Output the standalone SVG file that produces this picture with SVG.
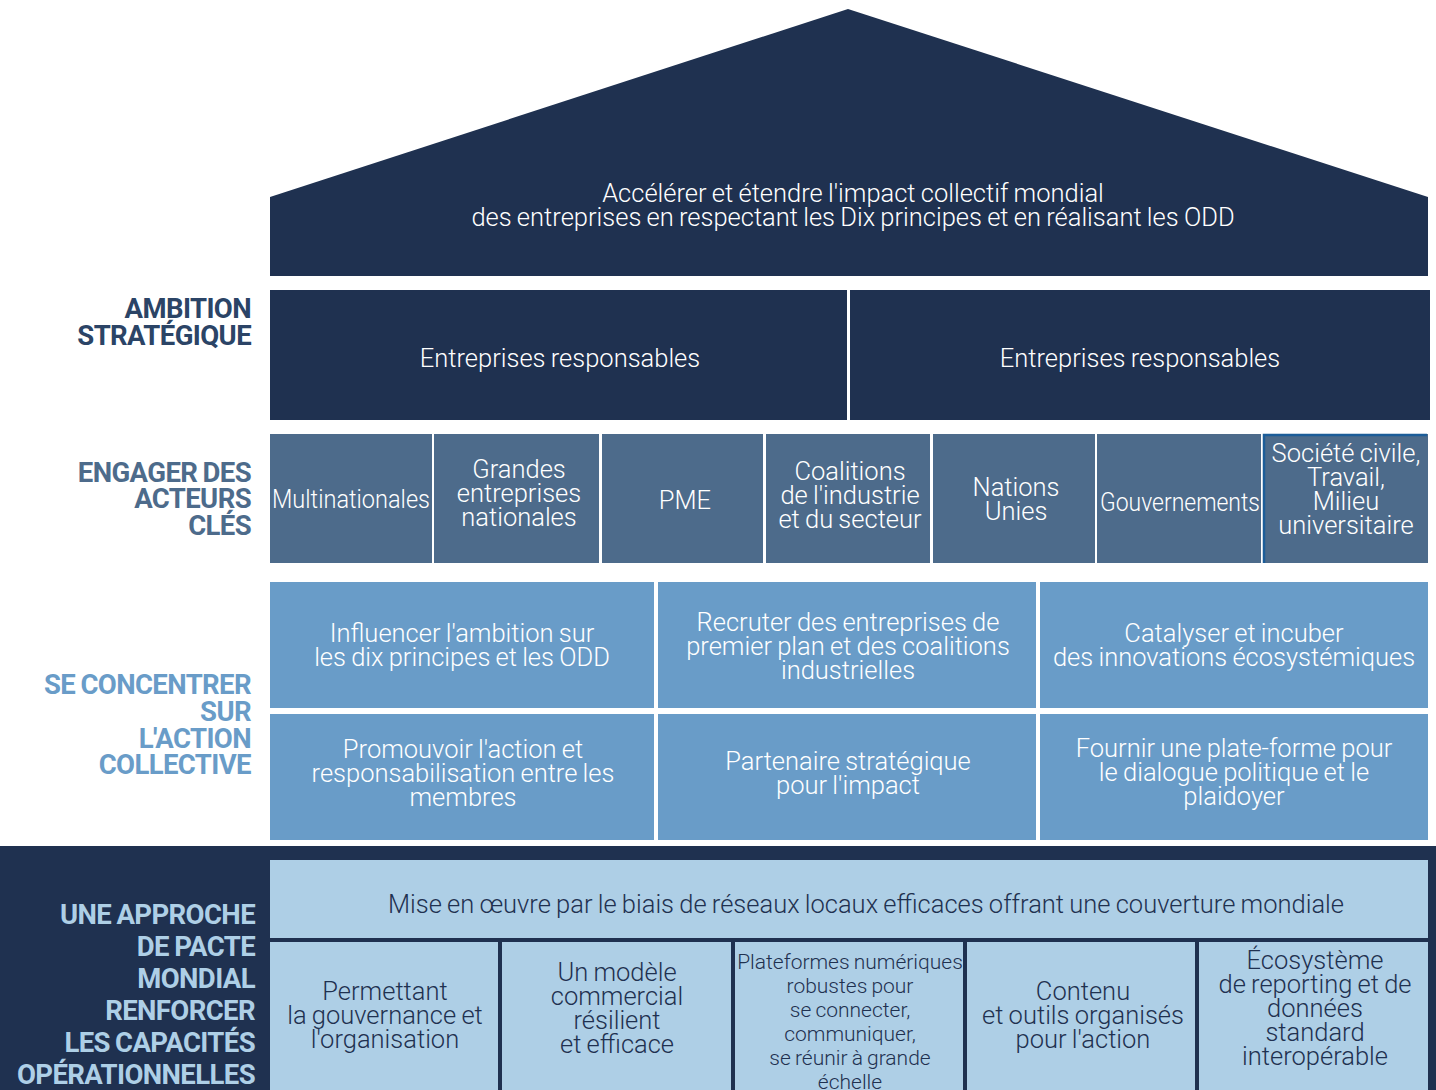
<svg xmlns="http://www.w3.org/2000/svg" width="1436" height="1090" viewBox="0 0 1436 1090">
<style>
.t{font-family:Roboto,"Liberation Sans",sans-serif;font-weight:300;fill:#ffffff;text-anchor:middle;font-size:25.5px;letter-spacing:0px;word-spacing:-1px}
.tk{fill:#1f3150}
.sm{font-size:21px}
.lb{font-family:Roboto,"Liberation Sans",sans-serif;font-weight:700;text-anchor:end;font-size:27.5px;letter-spacing:-0.6px;word-spacing:-1px}
.navy{fill:#1f3150}
.act{fill:#4d6b8b}
.col{fill:#699cc8}
.lt{fill:#aecfe6}
</style>
<rect x="0" y="0" width="1436" height="1090" fill="#ffffff"/>
<rect x="0" y="846" width="1436" height="244" class="navy"/>
<g id="labels">
<text class="lb" fill="#2b4466"><tspan x="251" y="318">AMBITION</tspan><tspan x="251" y="345">STRATÉGIQUE</tspan></text>
<text class="lb" fill="#4d6b8b"><tspan x="251" y="482">ENGAGER DES</tspan><tspan x="251" y="508">ACTEURS</tspan><tspan x="251" y="535">CLÉS</tspan></text>
<text class="lb" fill="#699cc8"><tspan x="251" y="694">SE CONCENTRER</tspan><tspan x="251" y="721">SUR</tspan><tspan x="251" y="748">L'ACTION</tspan><tspan x="251" y="774">COLLECTIVE</tspan></text>
<text class="lb" fill="#aecfe6"><tspan x="255" y="924">UNE APPROCHE</tspan><tspan x="255" y="956">DE PACTE</tspan><tspan x="255" y="988">MONDIAL</tspan><tspan x="255" y="1020">RENFORCER</tspan><tspan x="255" y="1052">LES CAPACITÉS</tspan><tspan x="255" y="1084">OPÉRATIONNELLES</tspan></text>
</g>
<g id="roof">
<polygon points="848,9 1428,197 1428,276 270,276 270,197" class="navy"/>
<text class="t"><tspan x="853" y="202">Accélérer et étendre l'impact collectif mondial</tspan><tspan x="853" y="226">des entreprises en respectant les Dix principes et en réalisant les ODD</tspan></text>
</g>
<g id="ambition-left"><rect x="270" y="290" width="577" height="130" class="navy"/><text class="t" x="560" y="367">Entreprises responsables</text></g>
<g id="ambition-right"><rect x="850" y="290" width="580" height="130" class="navy"/><text class="t" x="1140" y="367">Entreprises responsables</text></g>
<g id="actor-1"><rect x="270" y="434" width="162" height="129" class="act"/><text class="t" x="351" y="508" textLength="158" lengthAdjust="spacingAndGlyphs">Multinationales</text></g>
<g id="actor-2"><rect x="434" y="434" width="165" height="129" class="act"/><text class="t"><tspan x="519" y="478">Grandes</tspan><tspan x="519" y="502">entreprises</tspan><tspan x="519" y="526">nationales</tspan></text></g>
<g id="actor-3"><rect x="602" y="434" width="161" height="129" class="act"/><text class="t" x="685" y="509">PME</text></g>
<g id="actor-4"><rect x="766" y="434" width="164" height="129" class="act"/><text class="t"><tspan x="850" y="480">Coalitions</tspan><tspan x="850" y="504">de l'industrie</tspan><tspan x="850" y="528">et du secteur</tspan></text></g>
<g id="actor-5"><rect x="933" y="434" width="162" height="129" class="act"/><text class="t"><tspan x="1016" y="496">Nations</tspan><tspan x="1016" y="520">Unies</tspan></text></g>
<g id="actor-6"><rect x="1097" y="434" width="164" height="129" class="act"/><text class="t" x="1180" y="511" textLength="160" lengthAdjust="spacingAndGlyphs">Gouvernements</text></g>
<g id="actor-7"><rect x="1263" y="434" width="165" height="129" class="act"/><path d="M1264,563 V435 H1427" fill="none" stroke="#1c5d99" stroke-width="2.5"/><text class="t"><tspan x="1346" y="462">Société civile,</tspan><tspan x="1346" y="486">Travail,</tspan><tspan x="1346" y="510">Milieu</tspan><tspan x="1346" y="534">universitaire</tspan></text></g>
<g id="focus-1"><rect x="270" y="582" width="384" height="126" class="col"/><text class="t"><tspan x="462" y="642">Influencer l'ambition sur</tspan><tspan x="462" y="666">les dix principes et les ODD</tspan></text></g>
<g id="focus-2"><rect x="658" y="582" width="378" height="126" class="col"/><text class="t"><tspan x="848" y="631">Recruter des entreprises de</tspan><tspan x="848" y="655">premier plan et des coalitions</tspan><tspan x="848" y="679">industrielles</tspan></text></g>
<g id="focus-3"><rect x="1040" y="582" width="388" height="126" class="col"/><text class="t"><tspan x="1234" y="642">Catalyser et incuber</tspan><tspan x="1234" y="666">des innovations écosystémiques</tspan></text></g>
<g id="focus-4"><rect x="270" y="714" width="384" height="126" class="col"/><text class="t"><tspan x="463" y="758">Promouvoir l'action et</tspan><tspan x="463" y="782">responsabilisation entre les</tspan><tspan x="463" y="806">membres</tspan></text></g>
<g id="focus-5"><rect x="658" y="714" width="378" height="126" class="col"/><text class="t"><tspan x="848" y="770">Partenaire stratégique</tspan><tspan x="848" y="794">pour l'impact</tspan></text></g>
<g id="focus-6"><rect x="1040" y="714" width="388" height="126" class="col"/><text class="t"><tspan x="1234" y="757">Fournir une plate-forme pour</tspan><tspan x="1234" y="781">le dialogue politique et le</tspan><tspan x="1234" y="805">plaidoyer</tspan></text></g>
<g id="network"><rect x="270" y="860" width="1158" height="78" class="lt"/><text class="t tk" x="866" y="913">Mise en œuvre par le biais de réseaux locaux efficaces offrant une couverture mondiale</text></g>
<g id="cap-1"><rect x="270" y="942" width="228" height="148" class="lt"/><text class="t tk"><tspan x="385" y="1000">Permettant</tspan><tspan x="385" y="1024">la gouvernance et</tspan><tspan x="385" y="1048">l'organisation</tspan></text></g>
<g id="cap-2"><rect x="502" y="942" width="229" height="148" class="lt"/><text class="t tk"><tspan x="617" y="981">Un modèle</tspan><tspan x="617" y="1005">commercial</tspan><tspan x="617" y="1029">résilient</tspan><tspan x="617" y="1053">et efficace</tspan></text></g>
<g id="cap-3"><rect x="735" y="942" width="228" height="148" class="lt"/><text class="t tk sm"><tspan x="850" y="969">Plateformes numériques</tspan><tspan x="850" y="993">robustes pour</tspan><tspan x="850" y="1017">se connecter,</tspan><tspan x="850" y="1041">communiquer,</tspan><tspan x="850" y="1065">se réunir à grande</tspan><tspan x="850" y="1089">échelle</tspan></text></g>
<g id="cap-4"><rect x="967" y="942" width="228" height="148" class="lt"/><text class="t tk"><tspan x="1083" y="1000">Contenu</tspan><tspan x="1083" y="1024">et outils organisés</tspan><tspan x="1083" y="1048">pour l'action</tspan></text></g>
<g id="cap-5"><rect x="1199" y="942" width="229" height="148" class="lt"/><text class="t tk"><tspan x="1315" y="969">Écosystème</tspan><tspan x="1315" y="993">de reporting et de</tspan><tspan x="1315" y="1017">données</tspan><tspan x="1315" y="1041">standard</tspan><tspan x="1315" y="1065">interopérable</tspan></text></g>
<g id="connectors"></g>
</svg>
